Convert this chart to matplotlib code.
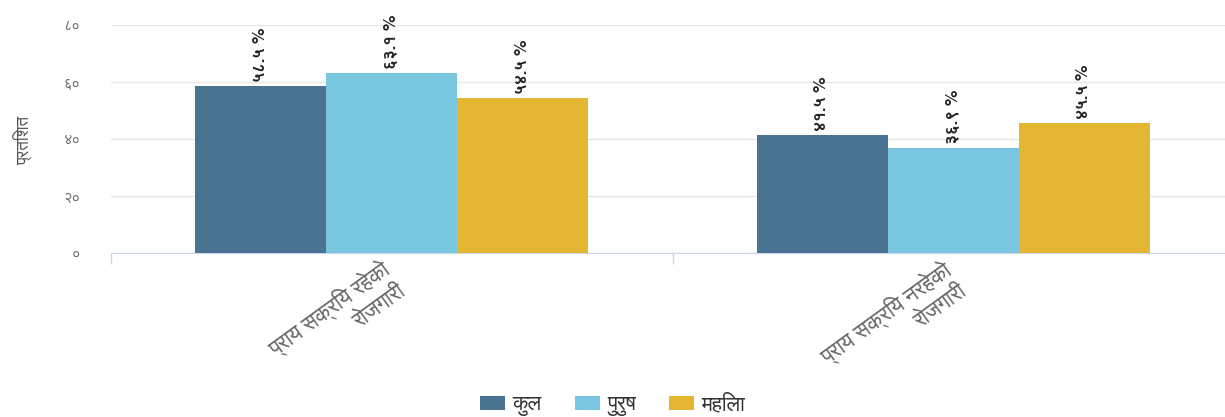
import matplotlib
matplotlib.use("Agg")
import matplotlib.pyplot as plt
from matplotlib import font_manager
from matplotlib.ft2font import FT2Font
from matplotlib.font_manager import FontProperties
from matplotlib.patches import Patch
import matplotlib.transforms as mtransforms
import numpy as np

# ---------------- data ----------------
categories = ["प्राय सक्रिय रहेको\nरोजगारी", "प्राय सक्रिय नरहेको\nरोजगारी"]
series_names = ["कुल", "पुरुष", "महिला"]
kul = [58.5, 41.5]
purush = [63.1, 36.9]
mahila = [54.5, 45.5]
kul_labels = ["५८.५ %", "४१.५ %"]
purush_labels = ["६३.१ %", "३६.९ %"]
mahila_labels = ["५४.५ %", "४५.५ %"]
y_ticks = [0, 20, 40, 60, 80]
y_tick_labels = ["०", "२०", "४०", "६०", "८०"]
y_title = "प्रतिशत"
colors = ["#4a7391", "#79c6e0", "#e3b732"]

# ------------- font with Devanagari glyphs -------------
def weight_of(f):
    if isinstance(f.weight, int):
        return f.weight
    return 700 if "bold" in str(f.weight).lower() else 400

deva_fonts = []
for f in font_manager.fontManager.ttflist:
    try:
        cm = FT2Font(f.fname).get_charmap()
        if 0x0915 in cm and 0x0966 in cm:
            deva_fonts.append(f)
    except Exception:
        pass
bold_f = next((f for f in deva_fonts if weight_of(f) >= 600), None)
reg_f = None
if bold_f is not None:
    reg_f = next((f for f in deva_fonts if f.name == bold_f.name and weight_of(f) < 600), None)
if reg_f is None and deva_fonts:
    reg_f = deva_fonts[0]
families = ([reg_f.name] if reg_f else []) + ["DejaVu Sans"]
plt.rcParams["font.family"] = families

def fp_reg(size):
    if reg_f is not None:
        return FontProperties(fname=reg_f.fname, size=size)
    return FontProperties(size=size)

def fp_bold(size):
    if bold_f is not None:
        return FontProperties(fname=bold_f.fname, size=size)
    return FontProperties(size=size, weight="bold")

W, H = 1225, 417
fig = plt.figure(figsize=(W / 100, H / 100), dpi=100)
ax_left, ax_right, ax_top, ax_bottom = 111, 1234, 25, 253
ax = fig.add_axes([ax_left / W, 1 - ax_bottom / H,
                   (ax_right - ax_left) / W, (ax_bottom - ax_top) / H])

x = np.arange(len(categories))
bw = 0.2333
all_series = [kul, purush, mahila]
all_labels = [kul_labels, purush_labels, mahila_labels]
for i, (vals, labs) in enumerate(zip(all_series, all_labels)):
    pos = x + (i - 1) * bw
    bars = ax.bar(pos, vals, width=bw, color=colors[i], zorder=3, linewidth=0)
    for b, lab in zip(bars, labs):
        ax.annotate(lab, (b.get_x() + b.get_width() / 2, b.get_height()),
                    xytext=(0, 3), textcoords="offset points",
                    rotation=90, ha="center", va="bottom",
                    color="#222222", zorder=4, fontproperties=fp_bold(12.5))

ax.set_xlim(-0.5, 1.5)
ax.set_ylim(0, 80)
ax.set_yticks(y_ticks)
ax.set_yticklabels(y_tick_labels, color="#666666", fontproperties=fp_reg(10.5))
ax.tick_params(axis="y", length=0, pad=22)
ax.yaxis.grid(True, color="#e6e6e6", linewidth=1, zorder=0)
ax.set_axisbelow(True)

ax.set_xticks([-0.5, 0.5, 1.5])
ax.set_xticklabels([])
ax.tick_params(axis="x", length=8, color="#ccd6eb", width=1)

for s in ["top", "right", "left"]:
    ax.spines[s].set_visible(False)
ax.spines["bottom"].set_color("#ccd6eb")

# category labels
offset = mtransforms.ScaledTranslation(-12 / 100, -4 / 100, fig.dpi_scale_trans)
for xi, cat in zip(x, categories):
    ax.text(xi, 0, cat, transform=ax.transData + offset,
            rotation=36, rotation_mode="anchor", ha="right", va="top",
            multialignment="right", color="#666666", fontproperties=fp_reg(15.5),
            linespacing=1.2)

fig.text(23 / W, 1 - 140 / H, y_title, rotation=90, ha="center", va="center",
         color="#555555", fontproperties=fp_reg(12))

handles = [Patch(facecolor=c, edgecolor="none") for c in colors]
fig.legend(handles, series_names, loc="center", bbox_to_anchor=(0.5, 1 - 405 / H),
           ncol=3, frameon=False, prop=fp_reg(15), handlelength=1.2, handleheight=0.72,
           columnspacing=1.6, handletextpad=0.35, labelcolor="#333333")

fig.savefig("out.png", dpi=100, facecolor="white")
